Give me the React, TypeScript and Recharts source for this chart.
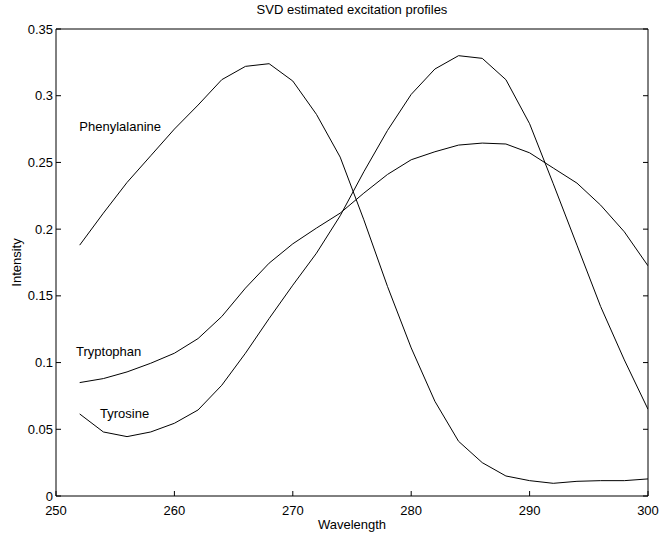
import React from 'react';
import { LineChart, Line, XAxis, YAxis, ReferenceDot } from 'recharts';

// wavelength samples (nm)
const wavelengths = [252, 254, 256, 258, 260, 262, 264, 266, 268, 270, 272, 274, 276, 278, 280, 282, 284, 286, 288, 290, 292, 294, 296, 298, 300];

const phenylalanine = [0.188, 0.212, 0.235, 0.255, 0.275, 0.293, 0.312, 0.322, 0.324, 0.311, 0.286, 0.254, 0.207, 0.157, 0.111, 0.071, 0.041, 0.025, 0.015, 0.0115, 0.0095, 0.011, 0.0115, 0.0115, 0.0128];
const tryptophan = [0.085, 0.088, 0.093, 0.0995, 0.107, 0.118, 0.1345, 0.1558, 0.1745, 0.189, 0.2008, 0.212, 0.227, 0.241, 0.252, 0.258, 0.263, 0.2645, 0.2638, 0.2572, 0.2458, 0.2345, 0.218, 0.198, 0.1725];
const tyrosine = [0.0615, 0.048, 0.0445, 0.048, 0.0545, 0.0645, 0.083, 0.107, 0.133, 0.158, 0.182, 0.21, 0.243, 0.274, 0.301, 0.32, 0.33, 0.328, 0.312, 0.279, 0.234, 0.188, 0.142, 0.102, 0.065];

const xTicks = [250, 260, 270, 280, 290, 300];
const yTicks = [0, 0.05, 0.1, 0.15, 0.2, 0.25, 0.3, 0.35];

// curve annotations: [text, wavelength, intensity]
const annotations: [string, number, number][] = [
  ['Phenylalanine', 251.97, 0.2773],
  ['Tryptophan', 251.69, 0.1081],
  ['Tyrosine', 253.72, 0.0615],
];

const data = wavelengths.map((w, i) => ({
  w,
  phe: phenylalanine[i],
  trp: tryptophan[i],
  tyr: tyrosine[i],
}));

const FONT = '"Liberation Sans", Arial, Helvetica, sans-serif';
const tickStyle = { fontSize: 13, fill: '#000', fontFamily: FONT };
const noTick = () => <g />;

const CurveLabel = ({ viewBox, text }: any) => (
  <text
    x={viewBox.x}
    y={viewBox.y}
    dominantBaseline="central"
    fontSize={13}
    fontFamily={FONT}
    fill="#000"
  >
    {text}
  </text>
);

export default function App() {
  return (
    <div style={{ position: 'absolute', left: 0, top: 0, width: 661, height: 535, background: '#fff' }}>
      <LineChart width={661} height={535} data={data} margin={{ top: 0, right: 0, bottom: 0, left: 0 }}>
        <XAxis
          dataKey="w"
          type="number"
          domain={[250, 300]}
          ticks={xTicks}
          allowDataOverflow
          height={39}
          tick={tickStyle}
          tickSize={-5}
          tickMargin={15}
          axisLine={{ stroke: '#000' }}
          tickLine={{ stroke: '#000' }}
          label={{ value: 'Wavelength', position: 'insideBottom', offset: 6, fontSize: 13, fill: '#000', fontFamily: FONT }}
        />
        <XAxis
          xAxisId="top"
          orientation="top"
          type="number"
          domain={[250, 300]}
          ticks={xTicks}
          allowDataOverflow
          height={29}
          tick={noTick}
          tickSize={-5}
          axisLine={{ stroke: '#000' }}
          tickLine={{ stroke: '#000' }}
          label={{ value: 'SVD estimated excitation profiles', position: 'insideTop', offset: 5, fontSize: 13, fill: '#000', fontFamily: FONT }}
        />
        <YAxis
          type="number"
          domain={[0, 0.35]}
          ticks={yTicks}
          allowDataOverflow
          width={56}
          tick={tickStyle}
          tickSize={-5}
          tickMargin={8}
          axisLine={{ stroke: '#000' }}
          tickLine={{ stroke: '#000' }}
          label={{ value: 'Intensity', angle: -90, position: 'insideLeft', offset: 16, fontSize: 13, fill: '#000', fontFamily: FONT, style: { textAnchor: 'middle' } }}
        />
        <YAxis
          yAxisId="right"
          orientation="right"
          type="number"
          domain={[0, 0.35]}
          ticks={yTicks}
          allowDataOverflow
          width={13}
          tick={noTick}
          tickSize={-5}
          axisLine={{ stroke: '#000' }}
          tickLine={{ stroke: '#000' }}
        />
        <Line type="linear" dataKey="phe" stroke="#000" strokeWidth={1} dot={false} isAnimationActive={false} />
        <Line type="linear" dataKey="trp" stroke="#000" strokeWidth={1} dot={false} isAnimationActive={false} />
        <Line type="linear" dataKey="tyr" stroke="#000" strokeWidth={1} dot={false} isAnimationActive={false} />
        {annotations.map(([text, x, y]) => (
          <ReferenceDot
            key={text}
            x={x}
            y={y}
            r={0}
            fill="none"
            stroke="none"
            label={(props: any) => <CurveLabel {...props} text={text} />}
          />
        ))}
      </LineChart>
    </div>
  );
}
